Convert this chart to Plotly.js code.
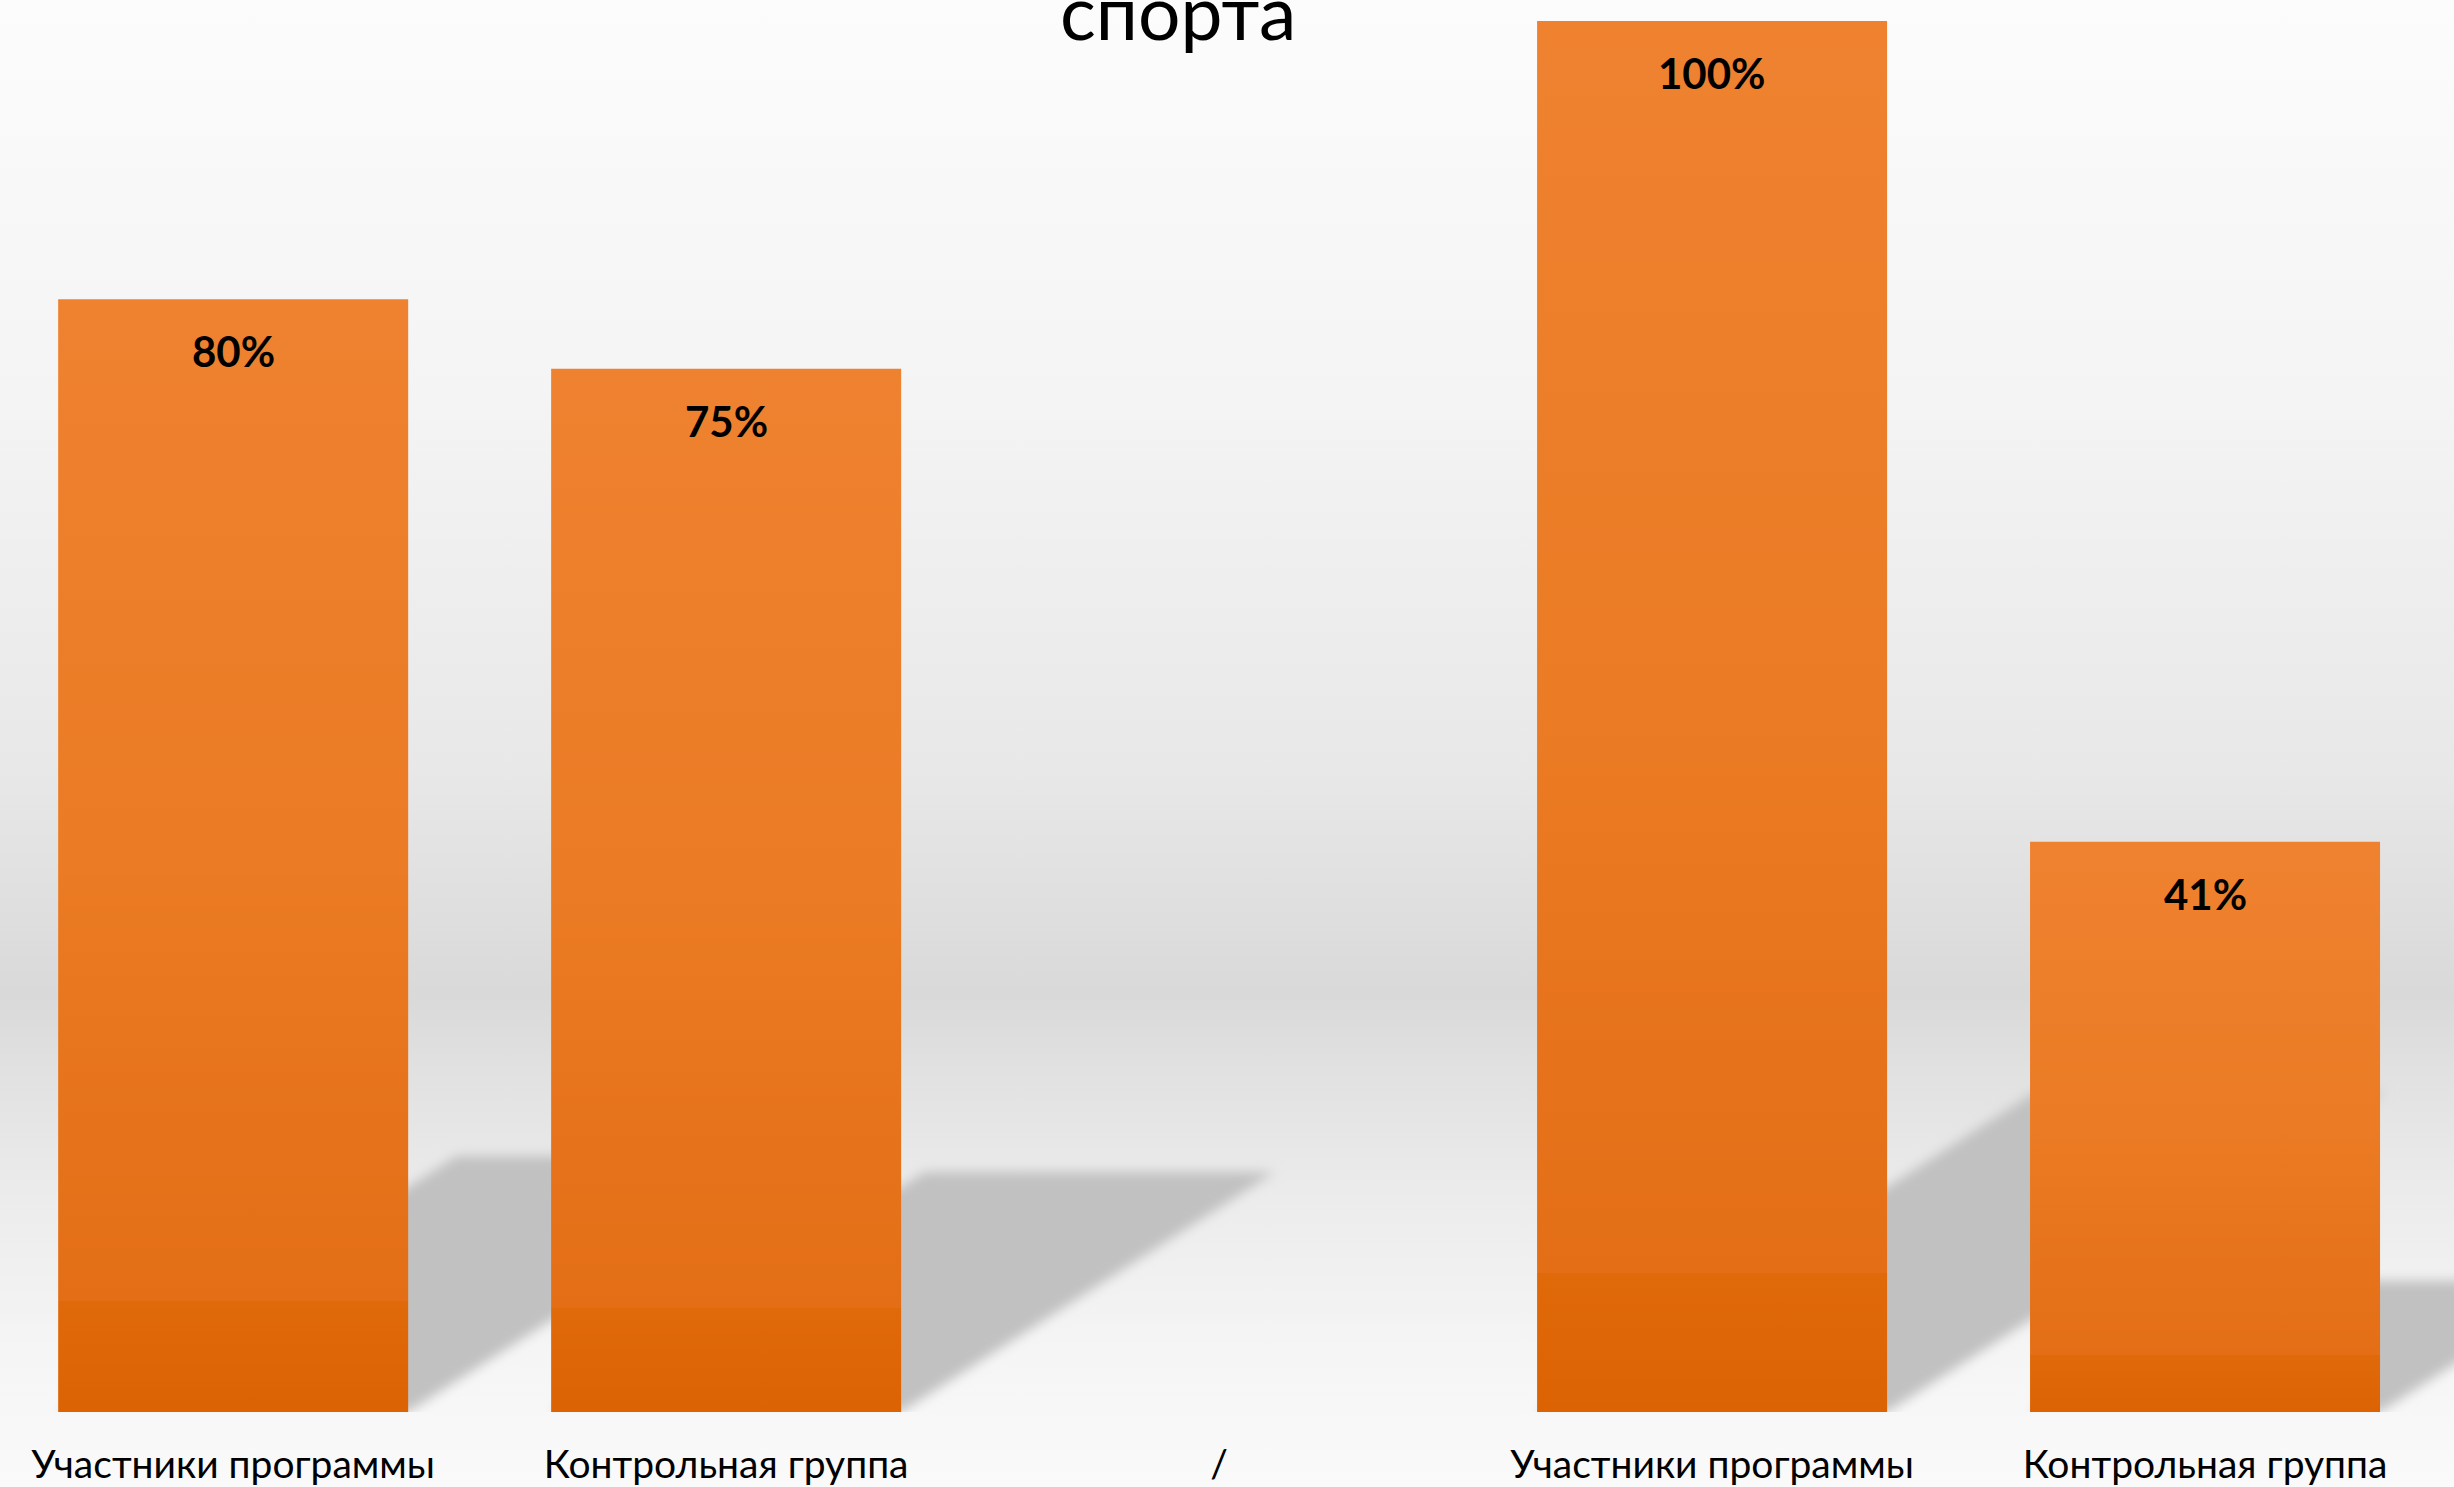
<!DOCTYPE html>
<html><head><meta charset="utf-8">
<script src="https://cdn.plot.ly/plotly-3.0.1.min.js"></script>
<style>
html,body{margin:0;padding:0;width:2454px;height:1487px;overflow:hidden;
background: linear-gradient(to bottom, #fcfcfc 0px, #f4f4f4 400px, #e8e8e8 770px, #d9d9d9 995px, #e1e1e1 1070px, #ececec 1200px, #f5f5f5 1350px, #fafafa 1487px);}
#chart{width:2454px;height:1487px;}
</style></head><body><div id="chart"></div>
<script>
// ---- data ----
const categories = ['Участники программы', 'Контрольная группа', '/', 'Участники программы', 'Контрольная группа'];
const values = [80, 75, null, 100, 41];
const valueLabels = ['80%', '75%', '', '100%', '41%'];
const titleText = 'спорта';

// ---- styles ----
const positions = categories.map((_, i) => i);
const BAR_W = 0.71;
const SHADOW_H = 0.23;    // shadow height as fraction of bar value
const SHADOW_SKEW = 0.0101; // x shift per value unit
const textFont = 'Lato, "Open Sans", "Noto Sans", sans-serif';

const shapes = [];
positions.forEach((p, i) => {
  const v = values[i];
  if (v == null) return;
  const hw = BAR_W / 2, h = v * SHADOW_H, dx = v * SHADOW_SKEW;
  shapes.push({
    type: 'path', xref: 'x', yref: 'y', layer: 'below',
    path: `M ${p - hw},0 L ${p + hw},0 L ${p + hw + dx},${h} L ${p - hw + dx},${h} Z`,
    fillcolor: '#c1c1c1', line: {width: 0}
  });
});

const annotations = [];
positions.forEach((p, i) => {
  if (values[i] == null) return;
  annotations.push({
    x: p, y: values[i], xref: 'x', yref: 'y', yanchor: 'middle', yshift: -52,
    text: valueLabels[i], showarrow: false,
    font: {family: textFont, size: 42, color: '#000', weight: 'bold'}
  });
});
annotations.push({
  x: 0.48, y: 1, xref: 'paper', yref: 'paper', xanchor: 'center', yanchor: 'middle', yshift: 10,
  text: titleText, showarrow: false,
  font: {family: textFont, size: 75, color: '#000'}
});

const trace = {
  type: 'bar', x: positions, y: values, width: BAR_W,
  marker: {color: '#E8761A', line: {width: 0}},
  hoverinfo: 'skip', cliponaxis: false
};

const layout = {
  width: 2454, height: 1487,
  margin: {l: 0, r: 0, t: 21, b: 75},
  paper_bgcolor: 'rgba(0,0,0,0)', plot_bgcolor: 'rgba(0,0,0,0)',
  showlegend: false,
  xaxis: {
    range: [-0.473, 4.505], tickvals: positions, ticktext: categories,
    showgrid: false, zeroline: false, showline: false, ticks: '',
    ticklabelstandoff: 26,
    tickfont: {family: textFont, size: 39, color: '#000'}, fixedrange: true
  },
  yaxis: {range: [0, 100], visible: false, fixedrange: true},
  shapes: shapes, annotations: annotations
};

Plotly.newPlot('chart', [trace], layout, {displayModeBar: false, staticPlot: true}).then(gd => {
  const ns = 'http://www.w3.org/2000/svg';
  const svg = gd.querySelector('.main-svg');
  let defs = svg.querySelector('defs');
  if (!defs) { defs = document.createElementNS(ns, 'defs'); svg.insertBefore(defs, svg.firstChild); }
  const f = document.createElementNS(ns, 'filter');
  f.setAttribute('id', 'shadowBlur');
  f.setAttribute('x', '-20%'); f.setAttribute('y', '-20%');
  f.setAttribute('width', '140%'); f.setAttribute('height', '140%');
  const b = document.createElementNS(ns, 'feGaussianBlur');
  b.setAttribute('stdDeviation', '6');
  f.appendChild(b); defs.appendChild(f);
  const g = document.createElementNS(ns, 'linearGradient');
  g.setAttribute('id', 'barGrad');
  g.setAttribute('x1', '0'); g.setAttribute('y1', '0'); g.setAttribute('x2', '0'); g.setAttribute('y2', '1');
  [[0, '#EF8230'], [0.5, '#EB7B24'], [0.9, '#E36E16'], [0.9, '#E0690A'], [1, '#DC6304']].forEach(([o, c]) => {
    const s = document.createElementNS(ns, 'stop');
    s.setAttribute('offset', o); s.setAttribute('stop-color', c);
    g.appendChild(s);
  });
  defs.appendChild(g);
  gd.querySelectorAll('.shapelayer path').forEach(p => p.setAttribute('filter', 'url(#shadowBlur)'));
  gd.querySelectorAll('.barlayer .point path').forEach(p => { p.style.fill = 'url(#barGrad)'; });
});
</script>
</body></html>
